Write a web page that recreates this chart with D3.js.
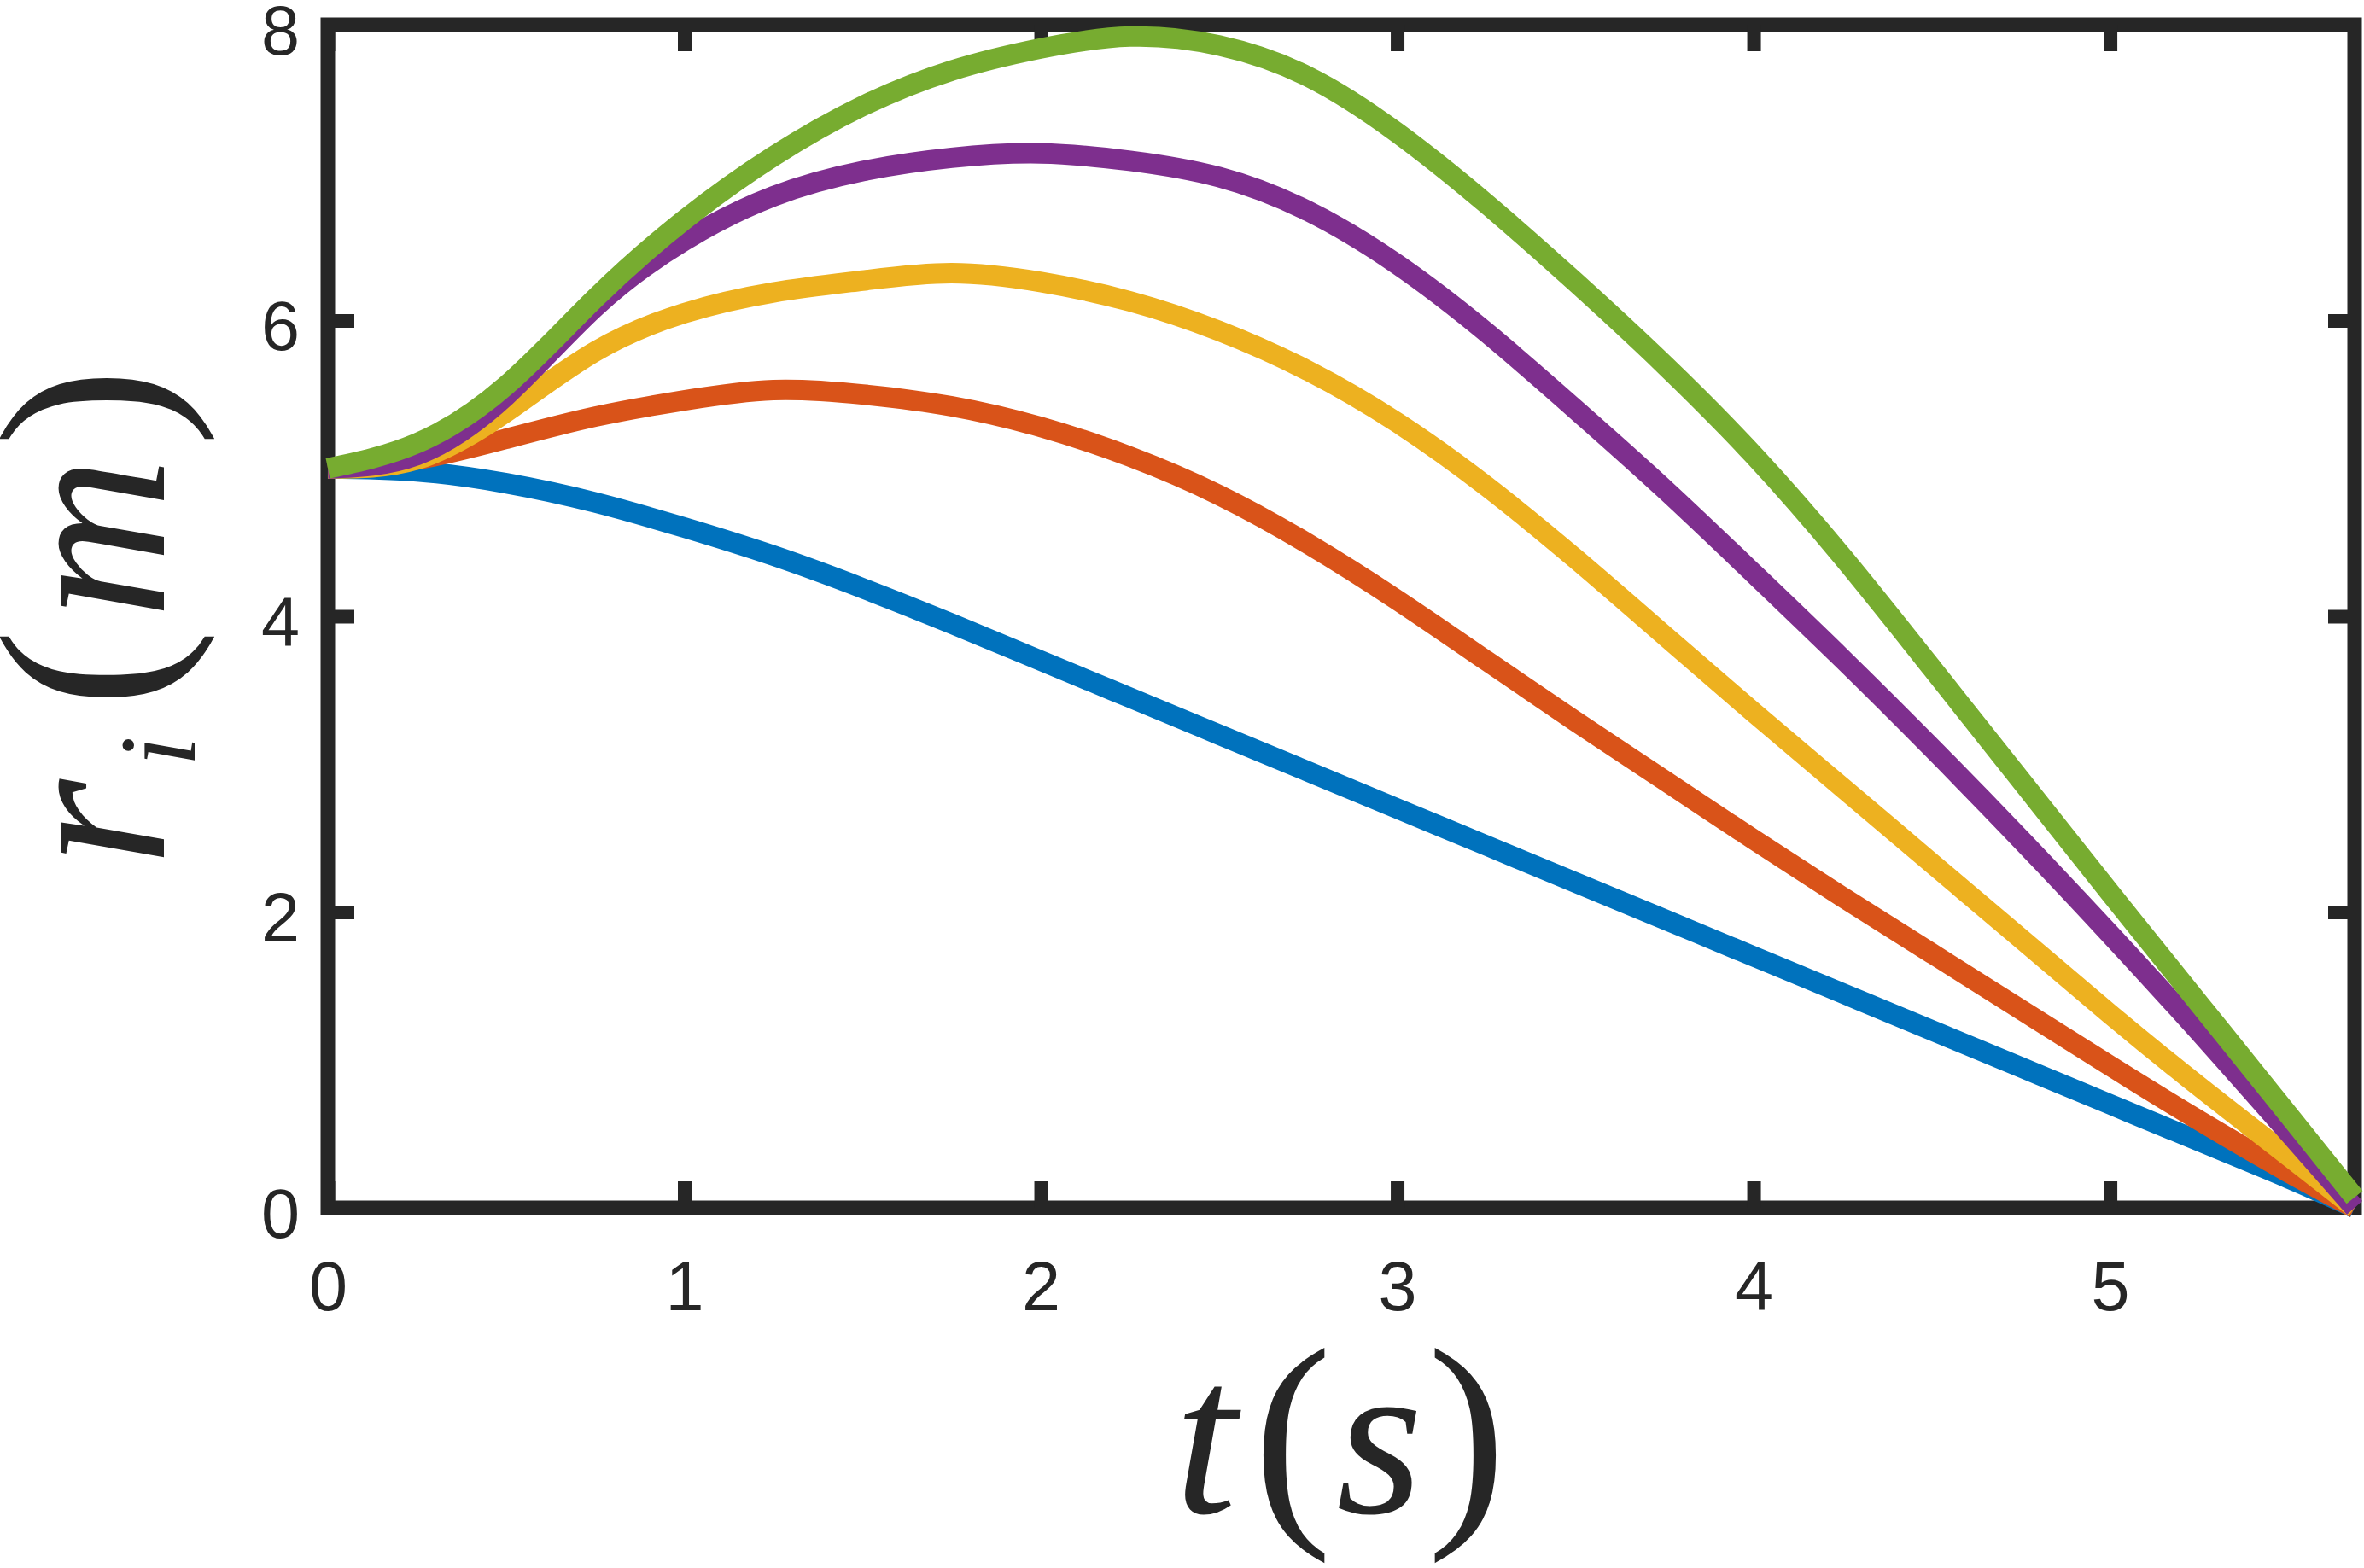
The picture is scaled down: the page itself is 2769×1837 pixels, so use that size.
<!DOCTYPE html>
<html>
<head>
<meta charset="utf-8">
<script src="https://cdn.jsdelivr.net/npm/d3@7.9.0/dist/d3.min.js"></script>
<style>
  html, body { margin: 0; padding: 0; background: #fff; }
  svg { display: block; }
</style>
</head>
<body>
<svg id="chart" width="2769" height="1837"></svg>
<script>
// time samples (s) shared by all curves
const tValues = [0, 0.25, 0.5, 0.75, 1.0, 1.25, 1.5, 1.75, 2.0, 2.25, 2.5, 2.75,
  3.0, 3.25, 3.5, 3.75, 4.0, 4.25, 4.5, 4.75, 5.0, 5.25, 5.5, 5.686];

// r_i(m), one array per curve
const rBlue = [5.00, 4.98, 4.90, 4.77, 4.60, 4.41, 4.19, 3.95, 3.70, 3.45, 3.20, 2.95,
  2.70, 2.45, 2.20, 1.95, 1.70, 1.45, 1.20, 0.95, 0.70, 0.45, 0.20, 0.00];
const rOrange = [5.00, 5.06, 5.20, 5.35, 5.46, 5.53, 5.50, 5.42, 5.28, 5.08, 4.82, 4.49,
  4.11, 3.70, 3.29, 2.89, 2.49, 2.10, 1.72, 1.34, 0.96, 0.59, 0.24, 0.00];
const rYellow = [5.00, 5.06, 5.38, 5.79, 6.05, 6.19, 6.27, 6.32, 6.26, 6.13, 5.93, 5.66,
  5.31, 4.88, 4.39, 3.87, 3.35, 2.84, 2.33, 1.82, 1.31, 0.82, 0.35, 0.00];
const rPurple = [5.00, 5.09, 5.49, 6.09, 6.54, 6.84, 7.01, 7.10, 7.13, 7.08, 6.97, 6.74,
  6.38, 5.92, 5.40, 4.86, 4.29, 3.71, 3.11, 2.49, 1.85, 1.19, 0.51, 0.00];
const rGreen = [5.00, 5.17, 5.56, 6.15, 6.68, 7.11, 7.45, 7.69, 7.84, 7.92, 7.86, 7.65,
  7.27, 6.79, 6.26, 5.70, 5.09, 4.40, 3.65, 2.89, 2.13, 1.38, 0.63, 0.07];

const seriesColors = ['#0072BD', '#D95319', '#EDB120', '#7E2F8E', '#77AC30'];
const seriesValues = [rBlue, rOrange, rYellow, rPurple, rGreen];

const xTicks = [0, 1, 2, 3, 4, 5];
const yTicks = [0, 2, 4, 6, 8];

const ink = '#262626';
const svg = d3.select('#chart');

const x = d3.scaleLinear().domain([0, 5.686]).range([384, 2758]);
const y = d3.scaleLinear().domain([0, 8]).range([1415, 29]);

// box
svg.append('rect')
  .attr('x', x(0))
  .attr('y', y(8))
  .attr('width', x(5.686) - x(0))
  .attr('height', y(0) - y(8))
  .attr('fill', 'none')
  .attr('stroke', ink)
  .attr('stroke-width', 17);

function styleAxis(g, keepText) {
  g.attr('font-family', '"Liberation Sans", Arial, sans-serif')
    .attr('font-size', 81);
  g.select('.domain').remove();
  g.selectAll('.tick line').attr('stroke', ink).attr('stroke-width', 16);
  if (keepText) {
    g.selectAll('.tick text').attr('fill', ink);
  } else {
    g.selectAll('.tick text').remove();
  }
}

svg.append('g')
  .attr('transform', `translate(0,${y(0)})`)
  .call(d3.axisBottom(x).tickValues(xTicks).tickSize(-31).tickPadding(62).tickFormat(d3.format('d')))
  .call(g => styleAxis(g, true));

svg.append('g')
  .attr('transform', `translate(0,${y(8)})`)
  .call(d3.axisTop(x).tickValues(xTicks).tickSize(-31))
  .call(g => styleAxis(g, false));

svg.append('g')
  .attr('transform', `translate(${x(0)},0)`)
  .call(d3.axisLeft(y).tickValues(yTicks).tickSize(-31).tickPadding(33).tickFormat(d3.format('d')))
  .call(g => styleAxis(g, true))
  .call(g => g.selectAll('.tick text').attr('dy', '0.42em'));

svg.append('g')
  .attr('transform', `translate(${x(5.686)},0)`)
  .call(d3.axisRight(y).tickValues(yTicks).tickSize(-31))
  .call(g => styleAxis(g, false));

// curves
const line = d3.line()
  .x(d => x(d[0]))
  .y(d => y(d[1]))
  .curve(d3.curveNatural);

seriesValues.forEach((vals, i) => {
  svg.append('path')
    .datum(tValues.map((t, j) => [t, vals[j]]))
    .attr('d', line)
    .attr('fill', 'none')
    .attr('stroke', seriesColors[i])
    .attr('stroke-width', 24)
    .attr('stroke-linejoin', 'round');
});

// axis labels, LaTeX style: italic letters, upright brackets
const serif = '"Liberation Serif", "Times New Roman", serif';

function glyph(parent, ch, pos, size, italic) {
  parent.append('text')
    .attr('x', pos)
    .attr('text-anchor', 'middle')
    .attr('font-family', serif)
    .attr('font-size', size)
    .attr('font-style', italic ? 'italic' : 'normal')
    .attr('fill', ink)
    .text(ch);
}

const xLabel = svg.append('g').attr('transform', 'translate(0,1772)');
glyph(xLabel, 't', 1412, 262, true);
glyph(xLabel, '(', 1514, 278, false);
glyph(xLabel, 's', 1616, 262, true);
glyph(xLabel, ')', 1718, 278, false);

// rotated: local x runs upward on the page, baseline at page x = 192
const yLabel = svg.append('g').attr('transform', 'translate(192,0) rotate(-90)');
glyph(yLabel, 'r', -964, 262, true);
glyph(yLabel.append('g').attr('transform', 'translate(0,36)'), 'i', -880, 128, true);
glyph(yLabel, '(', -783, 278, false);
glyph(yLabel, 'm', -630, 262, true);
glyph(yLabel, ')', -477, 278, false);
</script>
</body>
</html>
